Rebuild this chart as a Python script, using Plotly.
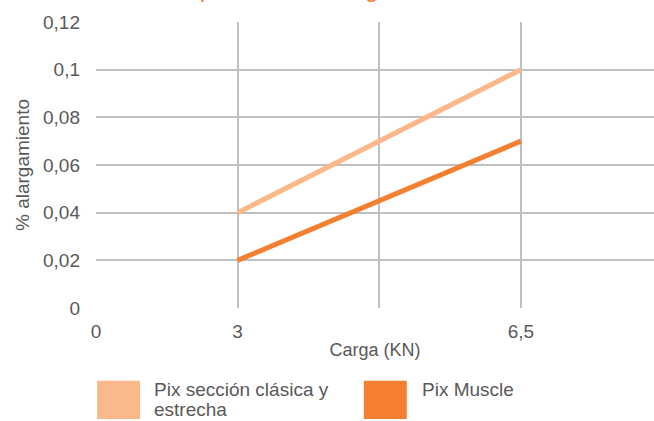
import plotly.graph_objects as go

# Carga (KN) categories, evenly spaced as in the original chart
carga_labels = ['0', '3', '', '6,5']
carga_pos = [0, 1, 2, 3]

# series: points at "3" and "6,5"
x_pts = [1, 3]
pix_clasica = [0.04, 0.10]
pix_muscle = [0.02, 0.07]

names = ['Pix sección clásica y estrecha', 'Pix Muscle']
legend_lines = [['Pix sección clásica y', 'estrecha'], ['Pix Muscle']]
colors = ['#FBB98B', '#F47F30']

font = 'Liberation Sans, Arial, sans-serif'
grey = '#595959'

fig = go.Figure()
fig.add_scatter(x=x_pts, y=pix_clasica, mode='lines', name=names[0],
                line=dict(color=colors[0], width=5), showlegend=False)
fig.add_scatter(x=x_pts, y=pix_muscle, mode='lines', name=names[1],
                line=dict(color=colors[1], width=5), showlegend=False)

fig.layout.width = 654
fig.layout.height = 421
fig.layout.margin = dict(l=96, r=0, t=22, b=113)
fig.layout.plot_bgcolor = 'white'
fig.layout.paper_bgcolor = 'white'
fig.layout.separators = ',.'
fig.layout.font = dict(family=font, size=19, color=grey)

fig.layout.xaxis = dict(range=[0, 3.94], tickmode='array', tickvals=carga_pos,
                        ticktext=carga_labels, showgrid=True, gridcolor='#BFBFBF',
                        gridwidth=1.5, zeroline=False, showline=False, ticks='',
                        ticklabelstandoff=10,
                        title=dict(text='Carga (KN)', standoff=2,
                                   font=dict(size=18, color=grey)))
fig.layout.yaxis = dict(range=[0, 0.12], dtick=0.02, showgrid=True,
                        gridcolor='#BFBFBF', gridwidth=1.5, zeroline=False,
                        showline=False, ticks='', ticklabelstandoff=15,
                        title=dict(text='% alargamiento', standoff=8,
                                   font=dict(size=19, color=grey)))

# title, cut off at the top of the image
fig.add_annotation(text='Comparativa de alargamiento', xref='paper', yref='paper',
                   x=0.378, y=1, yanchor='bottom', yshift=18, showarrow=False,
                   font=dict(size=24, color='#F47F30', family=font))

# legend drawn as big squares with labels
leg_x = [0.002, 0.48]
txt_x = [0.1, 0.58]
for i in range(2):
    fig.add_shape(type='rect', xref='paper', yref='paper',
                  x0=leg_x[i], x1=leg_x[i] + 0.077, y0=-0.254, y1=-0.388,
                  fillcolor=colors[i], line=dict(width=0))
    for j, line in enumerate(legend_lines[i]):
        fig.add_annotation(text=line, xref='paper', yref='paper', x=txt_x[i],
                           y=-0.240 - j * 0.07, xanchor='left', yanchor='top',
                           align='left', showarrow=False,
                           font=dict(size=19, color=grey))

fig.write_html('out.html', config={'displayModeBar': False},
               post_script="document.body.style.margin = '0';")
